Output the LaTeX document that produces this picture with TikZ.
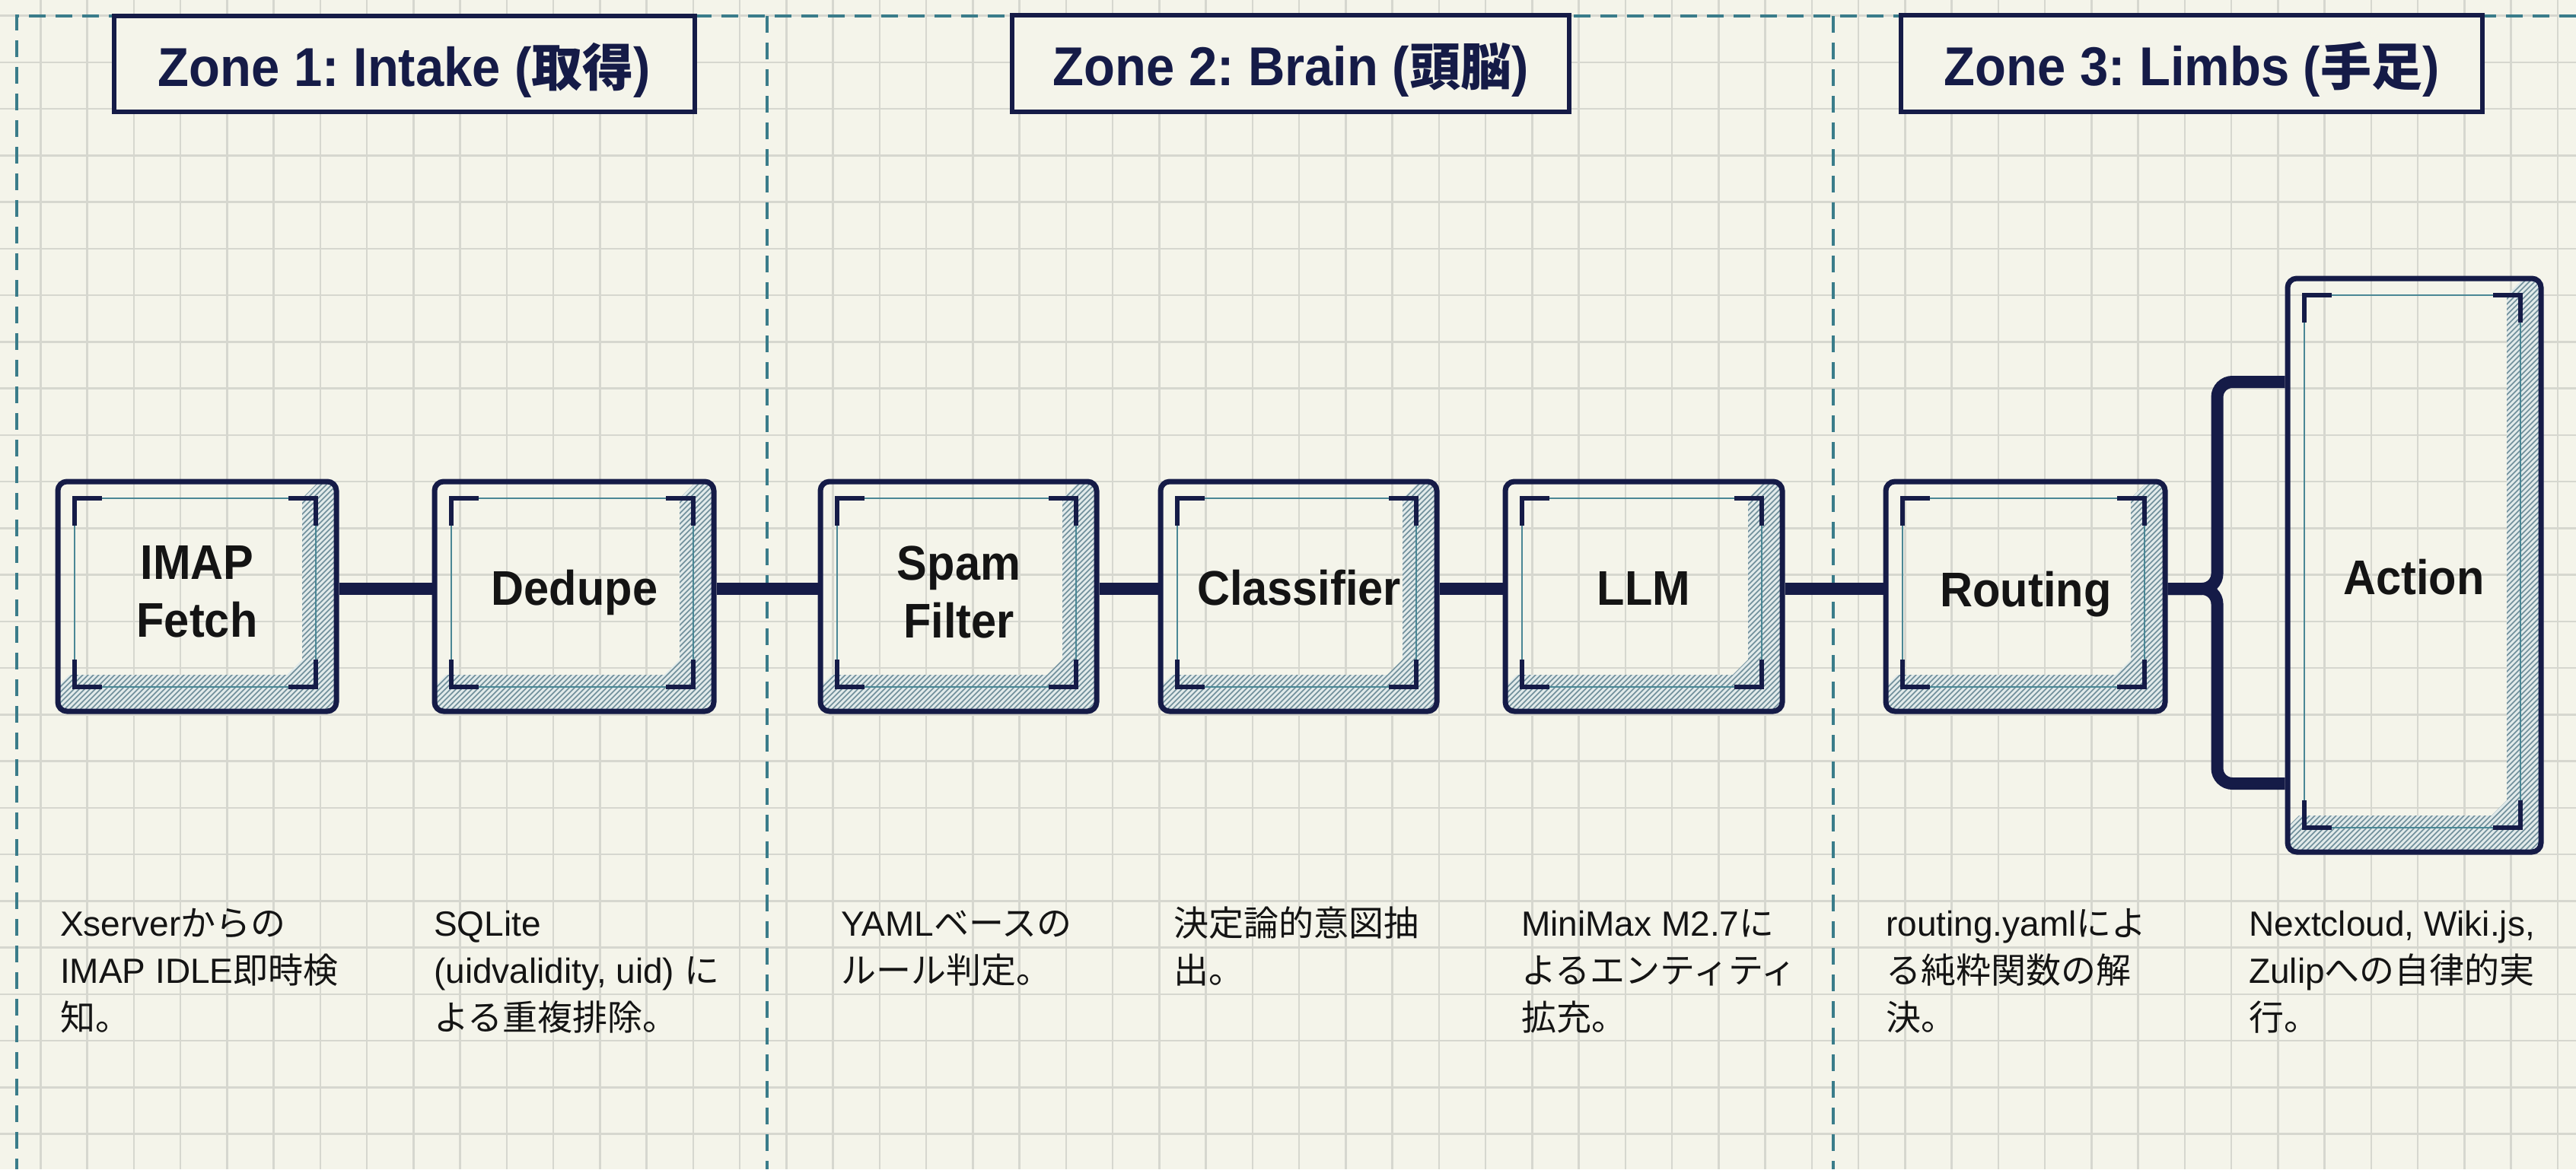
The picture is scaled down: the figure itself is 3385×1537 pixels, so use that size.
\documentclass[tikz,border=0pt]{standalone}
\usepackage{fontspec}
\setmainfont{Liberation Sans}
\newfontfamily\cjk{Noto Sans CJK JP}
\newfontfamily\lblfont[FakeStretch=0.93]{Liberation Sans}
\newcommand\J[1]{{\cjk #1}}
\newcommand\JH[1]{{\cjk\fontsize{67}{80}\selectfont #1}}
\definecolor{bgc}{HTML}{F4F4EA}
\definecolor{gridc}{HTML}{D6D7CF}
\definecolor{zonec}{HTML}{3A7C8A}
\definecolor{navy}{HTML}{151B47}
\definecolor{hatchbg}{HTML}{E1EAEA}
\definecolor{hatchln}{HTML}{6F8E9A}
\definecolor{innerc}{HTML}{4A8795}
\definecolor{txt}{HTML}{141414}
\frenchspacing
\newcommand\pipebox[5]{%
  \begin{scope}
    \clip[rounded corners=12pt] (#2,#3) rectangle (#4,#5);
    \clip (#4-45,#3+22) -- (#4-25,#3+2) -- (#4+5,#3+2) -- (#4+5,#5+5) -- (#2-5,#5+5)
      -- (#2-5,#5-28) -- (#2+15,#5-48) -- (#4-65,#5-48) -- (#4-45,#5-68) -- cycle;
    \fill[hatchbg] (#2,#3) rectangle (#4,#5);
    \foreach \k in {0,...,160}{\draw[hatchline] ({#2+#3+7*\k-#5},#5) -- ({#2+#3+7*\k-#3},#3);}
  \end{scope}
  \draw[innerline] (#2+22,#3+22) rectangle (#4-27,#5-32);
  \draw[bracket] (#2+22,#3+58) -- (#2+22,#3+22) -- (#2+58,#3+22);
  \draw[bracket] (#4-63,#3+22) -- (#4-27,#3+22) -- (#4-27,#3+58);
  \draw[bracket] (#2+22,#5-68) -- (#2+22,#5-32) -- (#2+58,#5-32);
  \draw[bracket] (#4-63,#5-32) -- (#4-27,#5-32) -- (#4-27,#5-68);
  \pgfmathsetmacro\bw{#4-#2}\pgfmathsetmacro\bh{#5-#3}
  \node[pbox, minimum width=\bw pt, minimum height=\bh pt] (#1) at ({(#2+#4)/2},{(#3+#5)/2}) {};
}
\begin{document}
\begin{tikzpicture}[x=1pt,y=-1pt,
  gridline/.style={draw=gridc, line width=2.5pt},
  zoneline/.style={draw=zonec, line width=4.5pt, dash pattern=on 22pt off 13pt},
  header/.style={draw=navy, line width=6.5pt, fill=bgc, text=navy, inner sep=0pt,
    font=\lblfont\bfseries\fontsize{72}{80}\selectfont, text height=58pt, text depth=0pt},
  pbox/.style={draw=navy, line width=7pt, rounded corners=12pt, inner sep=0pt},
  hatchline/.style={draw=hatchln, line width=1.6pt},
  innerline/.style={draw=innerc, line width=2pt},
  bracket/.style={draw=navy, line width=6pt},
  conn/.style={draw=navy, line width=16pt},
  blabel/.style={text=txt, inner sep=0pt, font=\lblfont\bfseries\fontsize{64}{76}\selectfont},
  desc/.style={anchor=north west, align=left, inner sep=0pt, text=txt,
    font=\fontsize{46}{62}\selectfont}]
\useasboundingbox (0,0) rectangle (3385,1537);
\fill[bgc] (0,0) rectangle (3385,1537);
\foreach \i in {0,...,55} \draw[gridline] ({53.4+61.25*\i},0) -- ++(0,1537);
\foreach \j in {0,...,24} \draw[gridline] (0,{20.5+61.25*\j}) -- ++(3385,0);
% zones
\draw[zoneline] (3385,21) -- (22,21) -- (22,1537);
\draw[zoneline] (1008,21) -- (1008,1537);
\draw[zoneline] (2409,21) -- (2409,1537);
\node[header, minimum width=763pt, minimum height=126pt] (z1) at (531.5,84) {Zone 1: Intake (\JH{取得})};
\node[header, minimum width=732pt, minimum height=127pt] (z2) at (1696,83.5) {Zone 2: Brain (\JH{頭脳})};
\node[header, minimum width=764pt, minimum height=127pt] (z3) at (2880,83.5) {Zone 3: Limbs (\JH{手足})};
% boxes
\pipebox{imap}{76}{633}{442}{935}
\pipebox{dedupe}{571}{633}{938}{935}
\pipebox{spam}{1078}{633}{1441}{935}
\pipebox{classifier}{1525}{633}{1888}{935}
\pipebox{llm}{1978}{633}{2342}{935}
\pipebox{routing}{2478}{633}{2845}{935}
\pipebox{action}{3006}{366}{3339}{1120}
% labels
\node[blabel, align=center] (imapt) at (259,778) {IMAP\\Fetch};
\node[blabel, anchor=base] (dedupet) at (755,795) {Dedupe};
\node[blabel, align=center] (spamt) at (1260,778) {Spam\\Filter};
\node[blabel, anchor=base] (classifiert) at (1707,795) {Classifier};
\node[blabel, anchor=base] (llmt) at (2160,795) {LLM};
\node[blabel, anchor=base] (routingt) at (2662,797) {Routing};
\node[blabel, anchor=base] (actiont) at (3172,781) {Action};
% connectors
\draw[conn] ([yshift=10pt]imap.east) -- ([yshift=10pt]dedupe.west);
\draw[conn] ([yshift=10pt]dedupe.east) -- ([yshift=10pt]spam.west);
\draw[conn] ([yshift=10pt]spam.east) -- ([yshift=10pt]classifier.west);
\draw[conn] ([yshift=10pt]classifier.east) -- ([yshift=10pt]llm.west);
\draw[conn] ([yshift=10pt]llm.east) -- ([yshift=10pt]routing.west);
\draw[conn, rounded corners=20pt] ([yshift=10pt]routing.east) -- ++(65,0) |- ([yshift=241pt]action.west);
\draw[conn, rounded corners=20pt] ([yshift=10pt]routing.east) -- ++(65,0) |- ([yshift=-287pt]action.west);
% descriptions
\node[desc] (d1) at (79,1188) {\rule{0pt}{42pt}Xserver\J{からの}\\IMAP IDLE\J{即時検}\\\J{知。}};
\node[desc] (d2) at (570,1188) {\rule{0pt}{42pt}SQLite\\(uidvalidity, uid) \J{に}\\\J{よる重複排除。}};
\node[desc] (d3) at (1105,1188) {\rule{0pt}{42pt}YAML\J{ベースの}\\\J{ルール判定。}};
\node[desc] (d4) at (1542,1188) {\rule{0pt}{42pt}\J{決定論的意図抽}\\\J{出。}};
\node[desc] (d5) at (1999,1188) {\rule{0pt}{42pt}MiniMax M2.7\J{に}\\\J{よるエンティティ}\\\J{拡充。}};
\node[desc] (d6) at (2478,1188) {\rule{0pt}{42pt}routing.yaml\J{によ}\\\J{る純粋関数の解}\\\J{決。}};
\node[desc] (d7) at (2955,1188) {\rule{0pt}{42pt}Nextcloud, Wiki.js,\\Zulip\J{への自律的実}\\\J{行。}};
\end{tikzpicture}
\end{document}
